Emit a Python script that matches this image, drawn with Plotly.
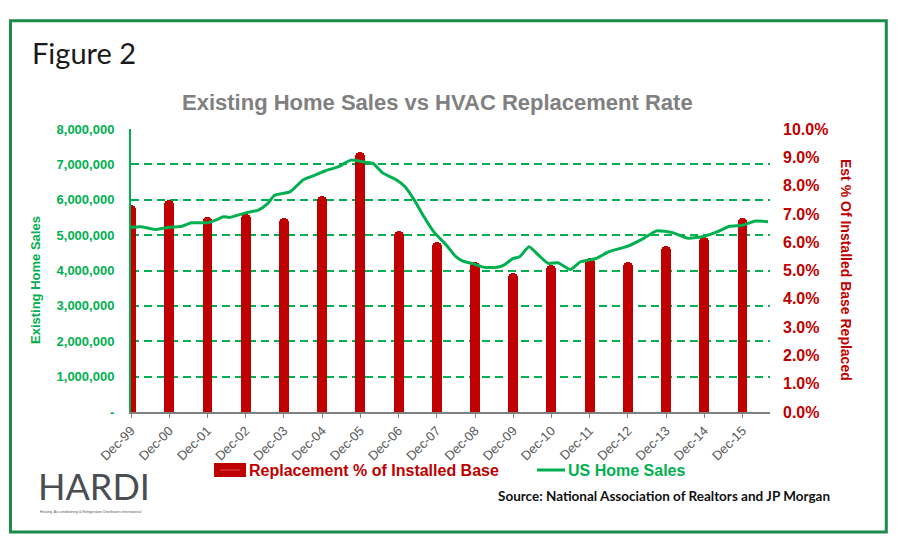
import plotly.graph_objects as go

# ---------------- data ----------------
years = list(range(1999, 2016))
bar_dates = [f"{y}-12-01" for y in years]
tick_labels = ["Dec-99", "Dec-00", "Dec-01", "Dec-02", "Dec-03", "Dec-04", "Dec-05", "Dec-06",
               "Dec-07", "Dec-08", "Dec-09", "Dec-10", "Dec-11", "Dec-12", "Dec-13", "Dec-14", "Dec-15"]
replacement_pct = [7.3, 7.5, 6.9, 7.0, 6.85, 7.65, 9.2, 6.4, 6.0, 5.3, 4.9, 5.2, 5.45, 5.3, 5.85, 6.2, 6.85]

sales_dates = ["1999-12-01", "2000-03-01", "2000-08-01", "2000-12-01", "2001-04-01", "2001-07-01",
               "2001-12-01", "2002-03-01", "2002-05-01", "2002-07-01", "2002-12-01", "2003-04-01",
               "2003-07-01", "2003-09-01", "2004-02-01", "2004-06-01", "2004-09-01", "2005-01-01",
               "2005-05-01", "2005-09-01", "2006-01-01", "2006-04-01", "2006-07-01", "2006-11-01",
               "2007-02-01", "2007-05-01", "2007-08-01", "2007-11-01", "2008-03-01", "2008-06-01",
               "2008-08-01", "2008-11-01", "2009-03-01", "2009-07-01", "2009-09-01", "2009-12-01",
               "2010-02-01", "2010-05-01", "2010-08-01", "2010-11-01", "2011-02-01", "2011-06-01",
               "2011-09-01", "2012-02-01", "2012-06-01", "2012-12-01", "2013-05-01", "2013-09-01",
               "2014-02-01", "2014-07-01", "2014-12-01", "2015-04-01", "2015-08-01", "2015-12-01",
               "2016-04-01", "2016-08-01"]
us_home_sales = [5220000, 5240000, 5160000, 5220000, 5250000, 5350000,
                 5350000, 5440000, 5520000, 5500000, 5630000, 5710000,
                 5900000, 6120000, 6230000, 6560000, 6670000, 6820000,
                 6930000, 7120000, 7070000, 7030000, 6760000, 6580000,
                 6370000, 5990000, 5520000, 5100000, 4720000, 4390000,
                 4270000, 4200000, 4090000, 4090000, 4150000, 4340000,
                 4390000, 4670000, 4430000, 4200000, 4220000, 4030000,
                 4240000, 4340000, 4530000, 4690000, 4910000, 5120000,
                 5070000, 4910000, 4970000, 5090000, 5250000, 5280000,
                 5400000, 5380000]

sales_tickvals = [0, 1000000, 2000000, 3000000, 4000000, 5000000, 6000000, 7000000, 8000000]
sales_ticktext = ["-", "1,000,000", "2,000,000", "3,000,000", "4,000,000", "5,000,000",
                  "6,000,000", "7,000,000", "8,000,000"]
pct_tickvals = [0, 1, 2, 3, 4, 5, 6, 7, 8, 9, 10]
pct_ticktext = ["0.0%", "1.0%", "2.0%", "3.0%", "4.0%", "5.0%", "6.0%", "7.0%", "8.0%", "9.0%", "10.0%"]

# ---------------- styling / layout helpers ----------------
W, H = 900, 550
L, R, T, B = 131, 130, 129, 138
PW, PH = W - L - R, H - T - B

def px(x):
    return (x - L) / PW

def py(y):
    return (H - B - y) / PH

GREEN = "#00b050"
RED = "#c00000"
GRAY = "#808080"
ARIAL = "Arial, Liberation Sans, sans-serif"

fig = go.Figure()

fig.add_trace(go.Bar(
    x=bar_dates, y=replacement_pct, name="Replacement % of Installed Base",
    marker=dict(color=RED, cornerradius=5, line=dict(width=0)),
    width=95 * 86400000, yaxis="y",
))
fig.add_trace(go.Scatter(
    x=sales_dates, y=us_home_sales, name="US Home Sales", mode="lines",
    line=dict(color=GREEN, width=3, shape="spline", smoothing=0.5), yaxis="y2",
))

fig.update_layout(
    template="none",
    width=W, height=H, autosize=False,
    margin=dict(l=L, r=R, t=T, b=B, pad=0),
    paper_bgcolor="white", plot_bgcolor="rgba(0,0,0,0)",
    showlegend=False,
    bargap=0,
    xaxis=dict(
        type="date", range=["1999-12-01", "2016-08-20"],
        tickvals=bar_dates, ticktext=tick_labels, tickangle=-45,
        tickfont=dict(family=ARIAL, size=13, color="#595959"),
        showline=True, linecolor=GRAY, linewidth=2,
        ticks="outside", ticklen=4, tickcolor=GRAY, tickwidth=1,
        showgrid=False, zeroline=False, automargin=False,
    ),
    yaxis=dict(
        range=[0, 10], side="right", tickvals=pct_tickvals, ticktext=pct_ticktext,
        tickfont=dict(family=ARIAL, size=16, color=RED, weight="bold"),
        showgrid=False, zeroline=False, showline=False, ticks="",
        ticklabelstandoff=12, automargin=False,
    ),
    yaxis2=dict(
        range=[0, 8000000], side="left", overlaying="y",
        tickvals=sales_tickvals, ticktext=sales_ticktext,
        tickfont=dict(family=ARIAL, size=13, color=GREEN, weight="bold"),
        showgrid=True, gridcolor=GREEN, gridwidth=1.5, griddash="8px,5px",
        showline=True, linecolor=GREEN, linewidth=2,
        zeroline=False, ticks="", ticklabelstandoff=12, automargin=False,
    ),
)

shapes = [
    # outer green frame
    dict(type="rect", xref="paper", yref="paper", x0=px(10.5), x1=px(886.3), y0=py(20.7), y1=py(532),
         line=dict(color="#1b8a4b", width=3), fillcolor="rgba(0,0,0,0)", layer="above"),
    # legend swatch: bars
    dict(type="rect", xref="paper", yref="paper", x0=px(214), x1=px(246), y0=py(463), y1=py(477),
         line=dict(width=0), fillcolor=RED, layer="above"),
    dict(type="line", xref="paper", yref="paper", x0=px(220), x1=px(240), y0=py(470), y1=py(470),
         line=dict(color="#e05050", width=1), layer="above"),
    # legend swatch: line
    dict(type="line", xref="paper", yref="paper", x0=px(537), x1=px(565), y0=py(470), y1=py(470),
         line=dict(color=GREEN, width=3), layer="above"),
]

annotations = [
    dict(text="Figure 2", x=px(30), y=py(52), xanchor="left", yanchor="middle",
         font=dict(family="Lato, sans-serif", size=29, color="#1a1a1a")),
    dict(text="<b>Existing Home Sales vs HVAC Replacement Rate</b>", x=px(437), y=py(102),
         xanchor="center", yanchor="middle", font=dict(family=ARIAL, size=22, color=GRAY)),
    dict(text="<b>Existing Home Sales</b>", x=px(35), y=py(280), textangle=-90,
         xanchor="center", yanchor="middle", font=dict(family=ARIAL, size=13, color=GREEN)),
    dict(text="<b>Est % Of Installed Base Replaced</b>", x=px(846), y=py(270), textangle=90,
         xanchor="center", yanchor="middle", font=dict(family=ARIAL, size=14, color=RED)),
    dict(text="<b>Replacement % of Installed Base</b>", x=px(247), y=py(470),
         xanchor="left", yanchor="middle", font=dict(family=ARIAL, size=16, color=RED)),
    dict(text="<b>US Home Sales</b>", x=px(566), y=py(470),
         xanchor="left", yanchor="middle", font=dict(family=ARIAL, size=16, color=GREEN)),
    dict(text="<b>Source: National Association of Realtors and JP Morgan</b>", x=px(496), y=py(496),
         xanchor="left", yanchor="middle", font=dict(family="Lato, sans-serif", size=13.5, color="#111111")),
    dict(text="HARDI", x=px(36), y=py(486), xanchor="left", yanchor="middle",
         font=dict(family="Lato, sans-serif", size=36, color="#4a4d52")),
    dict(text="Heating, Air-conditioning & Refrigeration Distributors International", x=px(38), y=py(512),
         xanchor="left", yanchor="middle", font=dict(family=ARIAL, size=3.5, color="#555555")),
]
for a in annotations:
    a.update(xref="paper", yref="paper", showarrow=False)

fig.update_layout(shapes=shapes, annotations=annotations)

fig.write_html("out.html")
